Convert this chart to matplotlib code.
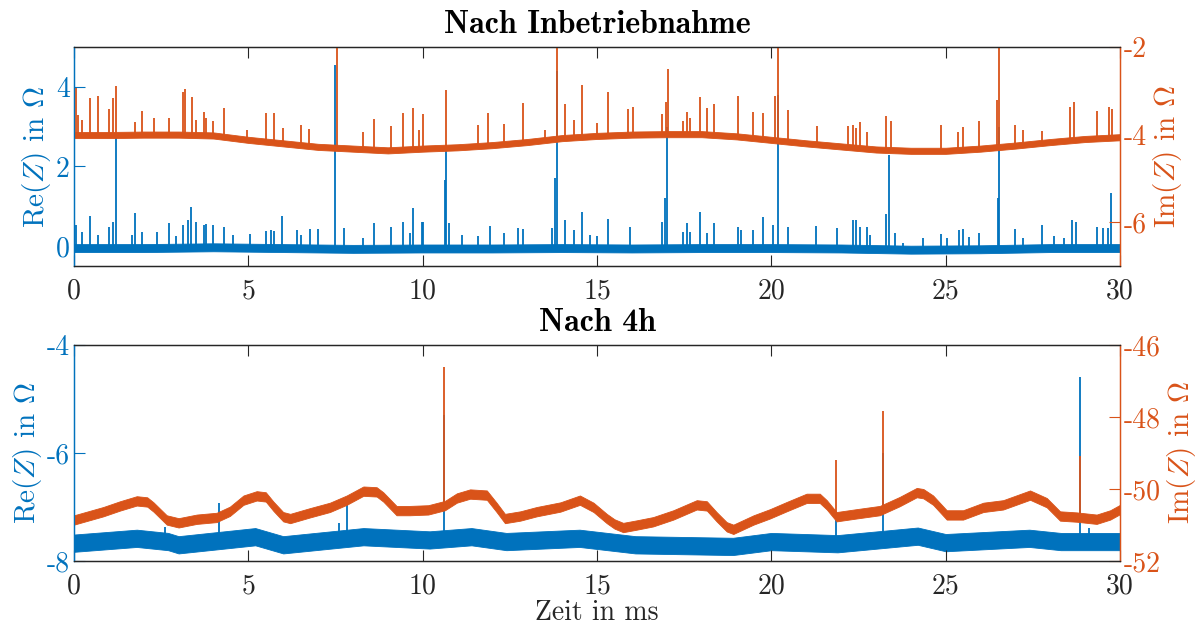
import numpy as np
import matplotlib
matplotlib.use("Agg")
import matplotlib.pyplot as plt

plt.rcParams['font.family'] = ['cmr10', 'DejaVu Serif']
plt.rcParams['mathtext.fontset'] = 'cm'
plt.rcParams['axes.unicode_minus'] = False
plt.rcParams['axes.formatter.use_mathtext'] = False

BLUE = '#0072BD'
ORANGE = '#D95319'
DARK = '#262626'

# ---------------- data: top panel "Nach Inbetriebnahme" ----------------
top_re_base_t = [0, 2, 4, 6, 8, 10, 12, 14, 16, 18, 20, 22, 24, 26, 28, 30]
top_re_base_v = [-0.05, -0.05, -0.03, -0.05, -0.07, -0.06, -0.06, -0.05, -0.06,
                 -0.05, -0.05, -0.06, -0.09, -0.08, -0.05, -0.05]
top_im_base_t = list(range(0, 31))
top_im_base_v = [-4.01, -4.01, -4.00, -4.00, -4.02, -4.12, -4.20, -4.28, -4.32, -4.36,
                 -4.32, -4.29, -4.24, -4.17, -4.08, -4.03, -4.00, -3.99, -3.99, -4.04,
                 -4.12, -4.20, -4.27, -4.34, -4.37, -4.37, -4.32, -4.25, -4.17, -4.10, -4.06]

top_re_spike_t = [0.06, 0.22, 0.46, 0.70, 1.01, 1.13, 1.20, 1.65, 1.75, 1.94, 2.39, 2.73, 2.92,
                  3.13, 3.28, 3.36, 3.49, 3.73, 3.80, 3.99, 4.30, 4.55, 5.05, 5.51, 5.64, 5.74,
                  5.96, 6.39, 6.51, 6.77, 7.00, 7.50, 7.74, 8.28, 8.60, 9.08, 9.45, 9.64, 9.73,
                  9.97, 10.00, 10.64, 10.67, 10.76, 11.12, 11.60, 11.93, 12.33, 12.74, 12.87,
                  13.70, 13.80, 13.84, 14.08, 14.35, 14.58, 14.80, 15.01, 15.32, 15.96, 16.86,
                  16.96, 17.00, 17.47, 17.57, 17.68, 17.95, 18.16, 18.35, 19.05, 19.14, 19.46,
                  19.77, 20.05, 20.20, 20.47, 21.28, 21.87, 22.33, 22.42, 22.54, 22.73, 22.83,
                  23.30, 23.38, 23.54, 23.78, 24.34, 24.86, 25.03, 25.37, 25.49, 25.68, 25.97,
                  26.50, 26.54, 27.00, 27.23, 27.75, 28.10, 28.39, 28.61, 28.75, 29.33, 29.52,
                  29.66, 29.73]
top_re_spike_v = [0.54, 0.36, 0.76, 0.28, 0.49, 0.61, 2.83, 0.29, 0.84, 0.36, 0.36, 0.59, 0.25,
                  0.53, 0.65, 0.99, 0.61, 0.53, 0.55, 0.53, 0.49, 0.28, 0.30, 0.38, 0.40, 0.38,
                  0.76, 0.40, 0.29, 0.43, 0.44, 4.55, 0.45, 0.20, 0.57, 0.49, 0.61, 0.32, 0.96,
                  0.61, 0.61, 1.66, 2.54, 0.57, 0.29, 0.26, 0.51, 0.34, 0.46, 0.44,
                  0.46, 1.70, 4.40, 0.65, 0.40, 0.86, 0.28, 0.26, 0.69, 0.48, 0.61,
                  1.20, 3.00, 0.36, 0.57, 0.36, 0.86, 0.32, 0.57, 0.49, 0.40, 0.40,
                  0.73, 0.53, 3.80, 0.49, 0.51, 0.46, 0.66, 0.66, 0.49, 0.49, 0.28,
                  0.80, 2.29, 0.34, 0.07, 0.20, 0.30, 0.20, 0.40, 0.43, 0.23, 0.32,
                  1.20, 3.00, 0.44, 0.20, 0.53, 0.26, 0.20, 0.65, 0.60, 0.49, 0.46,
                  0.46, 1.34]

top_im_spike_t = [0.06, 0.12, 0.22, 0.46, 0.70, 1.01, 1.13, 1.20, 1.75, 1.94, 2.29, 2.73, 3.13,
                  3.18, 3.37, 3.49, 3.73, 3.80, 3.98, 4.30, 4.95, 5.51, 5.74, 6.00, 6.50, 6.75,
                  7.53, 8.28, 8.60, 9.08, 9.45, 9.73, 9.89, 10.00, 10.67, 11.60, 11.88, 12.33,
                  12.87, 13.51, 13.84, 14.08, 14.35, 14.58, 15.01, 15.32, 15.90, 16.02, 16.86,
                  16.98, 17.04, 17.47, 17.57, 17.68, 17.95, 18.16, 18.35, 19.05, 19.46, 19.77,
                  20.10, 20.20, 20.47, 21.30, 22.20, 22.33, 22.42, 22.54, 22.73, 23.29, 23.42,
                  24.86, 25.35, 25.49, 25.97, 26.48, 26.54, 27.00, 27.23, 27.75, 28.58, 28.69,
                  29.33, 29.69, 29.76]
top_im_spike_v = [-2.94, -3.55, -3.67, -3.16, -3.13, -3.42, -3.16, -2.88, -3.72, -3.45, -3.61,
                  -3.63, -3.02, -2.96, -3.14, -3.67, -3.48, -3.61, -3.70, -3.39, -3.90, -3.50,
                  -3.51, -3.86, -3.77, -3.87, -1.90, -3.95, -3.65, -3.81, -3.51, -3.39, -3.90,
                  -3.54, -2.98, -3.77, -3.51, -3.75, -3.27, -3.90, -1.90, -3.29, -3.67, -2.87,
                  -3.74, -3.02, -3.42, -3.36, -3.54, -3.25, -2.50, -3.70, -3.49, -3.63, -3.14,
                  -3.39, -3.29, -3.13, -3.49, -3.51, -3.11, -1.90, -3.43, -3.81, -3.81, -3.78,
                  -3.85, -3.72, -3.93, -3.57, -3.70, -3.77, -3.95, -3.82, -3.69, -3.20, -1.90,
                  -3.78, -3.90, -3.92, -3.36, -3.25, -3.46, -3.36, -3.42]

# ---------------- data: bottom panel "Nach 4h" ----------------
bot_re_base_t = [0, 1.8, 2.7, 3.0, 5.2, 6.0, 8.3, 10.2, 11.4, 12.4, 14.5, 16.1, 18.9, 20.0,
                 21.9, 24.2, 25.0, 27.4, 28.3, 30]
bot_re_base_v = [-7.67, -7.58, -7.64, -7.70, -7.55, -7.70, -7.55, -7.61, -7.55, -7.64, -7.58,
                 -7.70, -7.73, -7.64, -7.68, -7.54, -7.66, -7.58, -7.64, -7.64]
bot_im_base_t = [0.0, 0.84, 1.32, 1.8, 2.1, 2.28, 2.47, 2.66, 3.0, 3.52, 4.09, 4.47, 4.86, 5.24,
                 5.5, 5.72, 6.0, 6.2, 6.77, 7.34, 7.82, 8.3, 8.68, 8.87, 9.06, 9.25, 9.63,
                 10.16, 10.64, 10.98, 11.36, 11.84, 12.12, 12.36, 12.8, 13.27, 13.95, 14.51,
                 14.9, 15.28, 15.5, 15.75, 16.14, 16.61, 17.19, 17.86, 18.15, 18.43, 18.72,
                 18.91, 19.49, 19.96, 20.44, 21.01, 21.39, 21.59, 21.87, 22.44, 23.11, 23.68,
                 24.17, 24.36, 24.64, 25.03, 25.5, 26.08, 26.65, 27.42, 27.9, 28.28, 28.76,
                 29.33, 29.72, 30.0]
bot_im_base_v = [-50.86, -50.63, -50.47, -50.33, -50.36, -50.50, -50.68, -50.86, -50.94, -50.84,
                 -50.79, -50.62, -50.31, -50.19, -50.22, -50.48, -50.77, -50.82, -50.66, -50.51,
                 -50.31, -50.06, -50.08, -50.22, -50.41, -50.60, -50.60, -50.58, -50.46, -50.25,
                 -50.14, -50.17, -50.51, -50.82, -50.75, -50.63, -50.50, -50.31, -50.51, -50.82,
                 -50.97, -51.07, -51.00, -50.91, -50.72, -50.44, -50.47, -50.77, -51.05, -51.12,
                 -50.86, -50.69, -50.49, -50.26, -50.26, -50.44, -50.77, -50.69, -50.60, -50.35,
                 -50.10, -50.13, -50.31, -50.72, -50.72, -50.51, -50.44, -50.17, -50.38, -50.75,
                 -50.78, -50.84, -50.72, -50.57]

bot_re_spike_t = [2.61, 4.16, 7.60, 7.83, 10.62, 21.85, 23.20, 28.84, 29.10]
bot_re_spike_v = [-7.37, -6.93, -7.30, -6.92, -5.30, -7.24, -6.00, -4.60, -7.39]
bot_im_spike_t = [10.62, 21.85, 23.20, 28.84]
bot_im_spike_v = [-46.60, -49.19, -47.83, -49.08]

x_ticks = [0, 5, 10, 15, 20, 25, 30]


def foot(spike_t, base_t, base_v):
    bt = np.asarray(base_t)
    idx = np.abs(bt[None, :] - np.asarray(spike_t)[:, None]).argmin(axis=1)
    return np.asarray(base_v)[idx]


def draw_series(ax, base_t, base_v, hw, spike_t, spike_v, color):
    bt = np.asarray(base_t)
    bv = np.asarray(base_v)
    ax.fill_between(bt, bv - hw, bv + hw, color=color, lw=0.6, edgecolor=color)
    ax.vlines(spike_t, foot(spike_t, base_t, base_v), spike_v, color=color, lw=1.3)


fig = plt.figure(figsize=(12.01, 6.26), dpi=100)

TICK_FS = 20
LAB_FS = 21
TITLE_FS = 23


def setup(ax, ax2, ylim_l, yt_l, ylim_r, yt_r, title):
    ax.set_xlim(0, 30)
    ax.set_xticks(x_ticks)
    ax.set_ylim(*ylim_l)
    ax.set_yticks(yt_l)
    ax2.set_ylim(*ylim_r)
    ax2.set_yticks(yt_r)
    ax.tick_params(axis='x', direction='in', length=8, width=0.8, colors=DARK,
                   labelsize=TICK_FS, top=True, pad=9)
    ax.tick_params(axis='y', direction='in', length=8, width=0.8, colors=BLUE,
                   labelsize=TICK_FS, pad=3)
    ax2.tick_params(axis='y', direction='in', length=8, width=0.8, colors=ORANGE,
                    labelsize=TICK_FS, pad=3)
    for a in (ax, ax2):
        a.spines['top'].set_color(DARK)
        a.spines['bottom'].set_color(DARK)
        a.spines['left'].set_color(BLUE)
        a.spines['right'].set_color(ORANGE)
        for s in a.spines.values():
            s.set_linewidth(0.9)
    ax.set_ylabel(r'Re$(Z)$ in $\Omega$', color=BLUE, fontsize=LAB_FS, labelpad=2)
    ax2.set_ylabel(r'Im$(Z)$ in $\Omega$', color=ORANGE, fontsize=LAB_FS, labelpad=3)
    ax.set_title(title, fontfamily='cmb10', fontsize=TITLE_FS, pad=10, color='black')


axL = 74 / 1201
axW = (1120 - 74) / 1201

ax1 = fig.add_axes([axL, 1 - 266 / 626, axW, 219 / 626])
ax1r = ax1.twinx()
draw_series(ax1, top_re_base_t, top_re_base_v, 0.10, top_re_spike_t, top_re_spike_v, BLUE)
draw_series(ax1r, top_im_base_t, top_im_base_v, 0.07, top_im_spike_t, top_im_spike_v, ORANGE)
setup(ax1, ax1r, (-0.5, 5), [0, 2, 4], (-7, -2), [-6, -4, -2], 'Nach Inbetriebnahme')

ax2 = fig.add_axes([axL, 1 - 561 / 626, axW, 216 / 626])
ax2r = ax2.twinx()
draw_series(ax2, bot_re_base_t, bot_re_base_v, 0.16, bot_re_spike_t, bot_re_spike_v, BLUE)
draw_series(ax2r, bot_im_base_t, bot_im_base_v, 0.13, bot_im_spike_t, bot_im_spike_v, ORANGE)
setup(ax2, ax2r, (-8, -4), [-8, -6, -4], (-52, -46), [-52, -50, -48, -46], 'Nach 4h')
ax2.set_xlabel('Zeit in ms', fontsize=20, color=DARK, labelpad=0)

fig.savefig('out.png', dpi=100)
